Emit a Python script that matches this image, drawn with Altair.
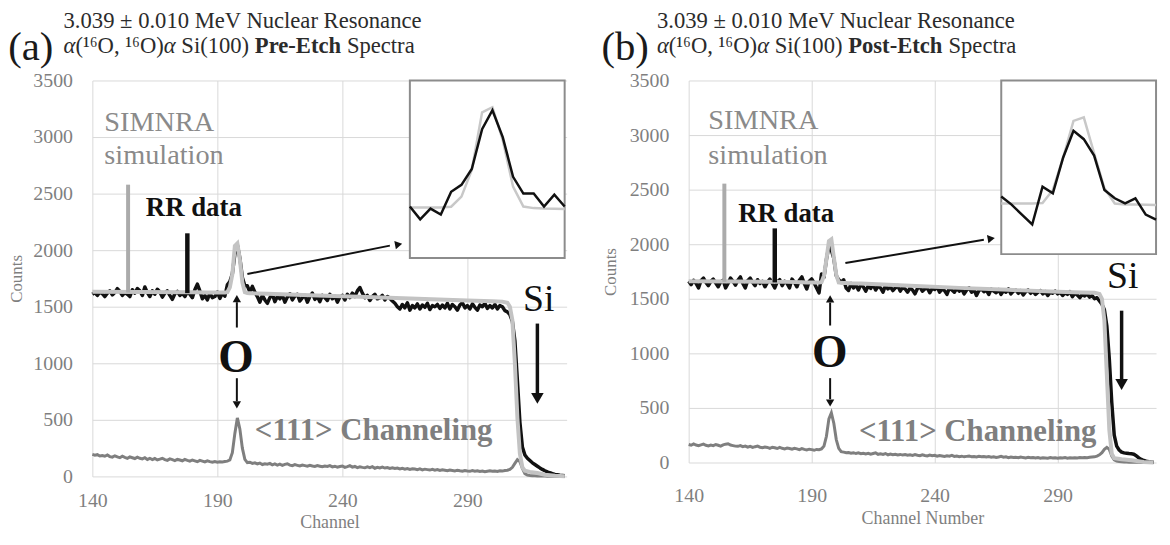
import altair as alt
import pandas as pd

FONT = "Liberation Serif"
CH0 = 140

# ---------------- panel (a): Pre-Etch ----------------
a_rr = [1610, 1625, 1600, 1630, 1615, 1590, 1620, 1640, 1605, 1625,
        1660, 1635, 1600, 1625, 1610, 1590, 1650, 1620, 1660, 1640,
        1600, 1675, 1625, 1590, 1640, 1610, 1655, 1630, 1585, 1620,
        1640, 1600, 1565, 1615, 1635, 1600, 1620, 1590, 1630, 1610,
        1580, 1650, 1700, 1640, 1570, 1600, 1560, 1620, 1580, 1590,
        1629, 1573, 1620, 1594, 1693, 1723, 1792, 1965, 2047, 1930, 1758, 1685, 1685, 1629, 1680, 1629,
        1590, 1540, 1600, 1560, 1530, 1580, 1610, 1545, 1590, 1570, 1600, 1540, 1585, 1615,
        1560, 1595, 1610, 1550, 1580, 1600, 1540, 1590, 1620, 1565, 1590, 1545, 1600, 1580, 1555, 1610, 1570, 1595, 1540, 1585,
        1600, 1560, 1610, 1580, 1620, 1590, 1640, 1670, 1620, 1580, 1600, 1555, 1590, 1610, 1570, 1580, 1600, 1560, 1590, 1575,
        1550, 1530, 1500, 1480, 1520, 1490, 1535, 1470, 1510, 1490, 1525, 1480, 1515, 1495, 1530, 1475, 1510, 1500, 1520, 1485,
        1515, 1490, 1530, 1480, 1520, 1500, 1470, 1515, 1535, 1490, 1510, 1480, 1525, 1495, 1470, 1515, 1500, 1530, 1485, 1510,
        1490, 1520, 1480, 1510, 1500, 1465, 1455, 1430, 1370, 1200,
        850, 480, 260, 190, 160, 140, 120, 105, 90, 75, 62, 50, 40, 32, 25, 18, 14, 10, 8, 6]

a_chan = [195, 188, 192, 180, 185, 178, 190, 175, 170, 182, 172, 165, 178, 168, 160, 172, 165, 158, 170, 160,
          155, 165, 150, 160, 148, 158, 145, 152, 160, 148, 142, 155, 148, 140, 150, 145, 138, 150, 142, 135,
          145, 138, 130, 142, 135, 128, 138, 130, 125, 132, 125, 130, 128, 132, 135, 145, 210, 380,
          517, 420, 250, 150, 122,
          125, 115, 120, 110, 118, 105, 112, 108, 115, 102, 110, 100, 108, 98, 106, 112, 100, 95, 104, 98, 92, 100, 95, 90, 98, 92, 88,
          95, 90, 85, 92, 88, 95, 84, 90, 82, 88, 92, 80, 86, 95, 82, 88, 78, 85, 80, 76, 84, 78, 86, 72, 80, 75, 82, 74, 78, 70,
          76, 70, 74, 66, 72, 64, 70, 62, 68, 65, 60, 66, 58, 64, 60, 56, 62, 55, 60, 52, 58, 54, 50, 56, 52, 48, 55, 50, 46, 52,
          48, 45, 52, 46, 50, 44, 48, 42, 46, 50, 45, 48, 44, 50, 47, 52, 55, 62, 80, 115,
          148, 130, 70, 25, 12, 8, 6, 5, 4, 4, 3, 3, 2, 2, 2, 1, 1, 1, 1, 1]

a_sim_ch = [140, 160, 180, 186, 188,
            190, 191, 192, 193, 194, 195, 196, 197, 198, 199, 200, 201, 202, 203, 204, 205, 206,
            210, 230, 250, 270, 290, 300, 304, 306, 307, 308, 309, 310, 311, 312, 313, 315, 318, 321, 325, 329]
a_sim = [1632, 1630, 1628, 1626, 1625,
         1625, 1625, 1625, 1625, 1628, 1672, 1788, 2038, 2060, 1917, 1715, 1629, 1622, 1620, 1619, 1618, 1617,
         1614, 1600, 1585, 1570, 1555, 1548, 1545, 1535, 1500, 1380, 1000, 520, 200, 80, 50, 40, 30, 15, 5, 2]

# ---------------- panel (b): Post-Etch ----------------
b_rr = [1660, 1630, 1670, 1640, 1600, 1665, 1690, 1650, 1620, 1660, 1680, 1645, 1610, 1655, 1670, 1600, 1640, 1690, 1660, 1625,
        1670, 1700, 1640, 1600, 1665, 1690, 1650, 1620, 1675, 1640, 1660, 1610, 1650, 1680, 1640, 1600, 1655, 1675, 1620, 1660,
        1640, 1600, 1680, 1650, 1610, 1670, 1700, 1640, 1590, 1660,
        1682, 1645, 1599, 1554, 1727, 1697, 1861, 1983, 1945, 1870, 1712, 1674, 1651, 1674, 1599, 1576,
        1640, 1600, 1625, 1580, 1630, 1610, 1570, 1620, 1595, 1630, 1580, 1615, 1600, 1560, 1620, 1590, 1610, 1575, 1600, 1620, 1570, 1605, 1590, 1560,
        1600, 1580, 1545, 1595, 1610, 1570, 1590, 1600, 1555, 1595, 1585, 1610, 1560, 1590, 1575, 1540, 1600, 1580, 1560, 1595, 1570, 1590, 1545, 1580, 1600, 1560, 1585, 1530, 1575, 1590,
        1565, 1580, 1540, 1590, 1570, 1555, 1585, 1540, 1575, 1560, 1590, 1545, 1570, 1580, 1550, 1575, 1535, 1565, 1580, 1550, 1570, 1540, 1560, 1575, 1545, 1565, 1530, 1560, 1550, 1570,
        1545, 1560, 1530, 1555, 1540, 1565, 1520, 1550, 1535, 1510, 1540, 1525, 1545, 1515, 1530, 1500, 1510, 1480, 1450, 1400,
        1250, 950, 550, 250, 150, 115, 95, 88, 85, 82, 80, 76, 60, 42, 28, 18, 12, 7, 4, 2]

b_chan = [165, 158, 170, 160, 155, 162, 168, 158, 152, 160, 155, 165, 158, 150, 162, 168, 172, 160, 155, 150,
          148, 155, 145, 150, 140, 148, 138, 145, 150, 140, 135, 142, 138, 130, 140, 135, 128, 138, 130, 125,
          132, 128, 122, 130, 125, 118, 128, 120, 115, 122, 118, 112, 120, 118, 125, 150, 240, 400,
          455, 360, 210, 130, 100,
          95, 90, 92, 85, 90, 82, 88, 80, 85, 78, 84, 76, 82, 88, 75, 80, 74, 82, 70, 78, 72, 76, 70, 74, 68, 72, 66,
          70, 65, 72, 66, 62, 70, 64, 60, 68, 62, 66, 58, 64, 60, 56, 62, 58, 65, 56, 60, 54, 58, 52, 56, 60, 52, 55, 50, 56, 52,
          55, 50, 54, 48, 52, 46, 50, 56, 48, 52, 45, 50, 46, 48, 44, 50, 45, 42, 48, 44, 46, 42, 45, 40, 44, 42, 40, 45, 41, 43,
          40, 44, 42, 45, 40, 43, 41, 44, 42, 45, 43, 46, 44, 48, 50, 52, 58, 70, 90, 120,
          138, 120, 60, 25, 12, 8, 6, 5, 4, 3, 3, 2, 2, 2, 1, 1, 1, 1, 1, 1]

b_sim_ch = [140, 160, 180, 186, 188,
            190, 191, 192, 193, 194, 195, 196, 197, 198, 199, 200, 201, 202, 203, 204, 205, 206,
            210, 230, 250, 270, 290, 300, 305, 307, 308, 309, 310, 311, 312, 313, 316, 320, 325, 329]
b_sim = [1660, 1658, 1655, 1652, 1650,
         1650, 1650, 1650, 1650, 1652, 1712, 1861, 2029, 2045, 1880, 1720, 1650, 1646, 1645, 1644, 1643, 1642,
         1640, 1620, 1600, 1582, 1565, 1558, 1555, 1545, 1500, 1300, 800, 300, 80, 40, 30, 20, 5, 1]

TITLE1 = "3.039 ± 0.010 MeV Nuclear Resonance"
TFS = 22.8          # title font size
K = TFS / 22.0      # scale for the hand-laid title pieces

CFG_A = dict(
    W=478, H=399, xmax=329.7, xtitle="Channel", xlabpad=14, xtitlepad=4, ytitlepad=7,
    tag="(a)", tag_x=-62, title_x=-29, etch="Pre-Etch", etch_w=84,
    simnra=(144.8, 3132, 2842), simnra_rule=(154.3, 1625, 2579),
    rr_text=(161.4, 2368), rr_rule=(178, 1620, 2149),
    o_text=(197.5, 1050), o_up=(197.8, 1316, 1540, 1572), o_down=(197.8, 868, 665, 632),
    si_text=(318.5, 1560), si_arrow=(318, 1351, 730, 690),
    chan_text=(205, 405),
    diag=(202, 1789, 259, 2040, 262.5, 2051, 349),
    ins_xr=[320, 476], ins_yd=[1405, 2176], ins_yr=[179, 0],
)
CFG_B = dict(
    W=471, H=385, xmax=330, xtitle="Channel Number", xlabpad=23, xtitlepad=4, ytitlepad=10,
    tag="(b)", tag_x=-64, title_x=-32, etch="Post-Etch", etch_w=92,
    simnra=(148, 3136, 2818), simnra_rule=(154.5, 1655, 2555),
    rr_text=(160.1, 2280), rr_rule=(175, 1650, 2145),
    o_text=(197.3, 1000), o_up=(197.5, 1255, 1465, 1500), o_down=(197.5, 773, 580, 545),
    si_text=(316.5, 1700), si_arrow=(316, 1391, 760, 715),
    chan_text=(209.2, 275),
    diag=(203.7, 1827, 260, 2040, 263, 2052, 350),
    ins_xr=[315, 471], ins_yd=[1418, 2214], ins_yr=[175, 0],
)

ONE = pd.DataFrame({"k": [0]})


def panel(rr, chan, sim_ch, sim, c):
    df_rr = pd.DataFrame({"channel": list(range(CH0, CH0 + len(rr))), "counts": rr})
    df_chan = pd.DataFrame({"channel": list(range(CH0, CH0 + len(chan))), "counts": chan})
    df_sim = pd.DataFrame({"channel": sim_ch, "counts": sim})

    xs = alt.Scale(domain=[140, c["xmax"]], nice=False, zero=False)
    ys = alt.Scale(domain=[0, 3500], nice=False)
    xax = alt.Axis(values=[140, 190, 240, 290], title=c["xtitle"], grid=True, ticks=False, tickSize=0,
                   domain=False, labelPadding=c["xlabpad"], titlePadding=c["xtitlepad"], format="d",
                   labelFont=FONT, titleFont=FONT, titleFontWeight="normal",
                   labelFontSize=20, titleFontSize=18, labelColor="#7f7f7f", titleColor="#7f7f7f",
                   gridColor="#d9d9d9", labelFlush=False)
    yax = alt.Axis(values=list(range(0, 3501, 500)), title="Counts", grid=True, ticks=False, tickSize=0,
                   domain=False, labelPadding=20, titlePadding=c["ytitlepad"], format="d",
                   labelFont=FONT, titleFont=FONT, titleFontWeight="normal",
                   labelFontSize=20, titleFontSize=17, labelColor="#7f7f7f", titleColor="#7f7f7f",
                   gridColor="#d9d9d9", labelFlush=False)
    X = alt.X("channel:Q", scale=xs, axis=xax)
    Y = alt.Y("counts:Q", scale=ys, axis=yax)

    chan_line = alt.Chart(df_chan).mark_line(color="#7f7f7f", strokeWidth=3).encode(x=X, y=Y)
    rr_line = alt.Chart(df_rr).mark_line(color="#111111", strokeWidth=3.5, strokeJoin="round").encode(x=X, y=Y)
    sim_line = alt.Chart(df_sim).mark_line(color="#c3c3c3", strokeWidth=4).encode(x=X, y=Y)

    sx, sy1, sy2 = c["simnra_rule"]
    rx, ry1, ry2 = c["rr_rule"]
    sim_rule = alt.Chart(pd.DataFrame({"channel": [sx], "counts": [sy1], "counts2": [sy2]})).mark_rule(
        color="#ababab", strokeWidth=4).encode(x=X, y=Y, y2="counts2:Q")
    rr_rule = alt.Chart(pd.DataFrame({"channel": [rx], "counts": [ry1], "counts2": [ry2]})).mark_rule(
        color="#111111", strokeWidth=4.5).encode(x=X, y=Y, y2="counts2:Q")

    def txt(rows, **kw):
        df = pd.DataFrame(rows, columns=["channel", "counts", "label"])
        return alt.Chart(df).mark_text(font=FONT, baseline="middle", **kw).encode(x=X, y=Y, text="label:N")

    smx, smy1, smy2 = c["simnra"]
    t_sim = txt([(smx, smy1, "SIMNRA"), (smx, smy2, "simulation")], align="left", fontSize=28.5, color="#8a8a8a")
    t_rr = txt([(c["rr_text"][0], c["rr_text"][1], "RR data")], align="left", fontSize=27,
               fontWeight="bold", color="#111111")
    t_o = txt([(c["o_text"][0], c["o_text"][1], "O")], align="center", fontSize=46, fontWeight="bold",
              color="#111111")
    t_si = txt([(c["si_text"][0], c["si_text"][1], "Si")], align="center", fontSize=38, color="#111111")
    t_ch = txt([(c["chan_text"][0], c["chan_text"][1], "<111> Channeling")], align="left", fontSize=31,
               fontWeight="bold", color="#7f7f7f")

    # arrows
    ox, oy1, oy2, otip = c["o_up"]
    dx, dy1, dy2, dtip = c["o_down"]
    six, siy1, siy2, sitip = c["si_arrow"]
    ax1, ay1, ax2, ay2, tx, ty, ang = c["diag"]
    shafts = pd.DataFrame({
        "channel": [ox, dx, ax1], "counts": [oy1, dy1, ay1],
        "channel2": [ox, dx, ax2], "counts2": [oy2, dy2, ay2]})
    shaft = alt.Chart(shafts).mark_rule(color="#111111", strokeWidth=2).encode(
        x=X, y=Y, x2="channel2:Q", y2="counts2:Q")
    si_shaft = alt.Chart(pd.DataFrame({"channel": [six], "counts": [siy1], "counts2": [siy2]})).mark_rule(
        color="#111111", strokeWidth=3.5).encode(x=X, y=Y, y2="counts2:Q")
    tip_up = alt.Chart(pd.DataFrame({"channel": [ox], "counts": [otip]})).mark_point(
        shape="triangle-up", filled=True, size=70, color="#111111", opacity=1).encode(x=X, y=Y)
    tip_dn = alt.Chart(pd.DataFrame({"channel": [dx], "counts": [dtip]})).mark_point(
        shape="triangle-down", filled=True, size=70, color="#111111", opacity=1).encode(x=X, y=Y)
    tip_si = alt.Chart(pd.DataFrame({"channel": [six], "counts": [sitip]})).mark_point(
        shape="triangle-down", filled=True, size=160, color="#111111", opacity=1).encode(x=X, y=Y)
    tip_dg = alt.Chart(pd.DataFrame({"channel": [tx], "counts": [ty]})).mark_point(
        shape="triangle-right", filled=True, size=70, angle=ang, color="#111111", opacity=1).encode(x=X, y=Y)

    # titles (text, placed in pixels above the plot)
    tag = alt.Chart(ONE).mark_text(text=c["tag"], font=FONT, fontSize=41, align="center",
                                   baseline="alphabetic", color="#1a1a1a").encode(
        x=alt.value(c["tag_x"]), y=alt.value(-21))
    t0 = c["title_x"]
    line1 = alt.Chart(ONE).mark_text(text=TITLE1, font=FONT, fontSize=TFS, align="left",
                                     baseline="alphabetic", color="#2b2b2b").encode(
        x=alt.value(t0), y=alt.value(-53))
    pieces = [("α", "italic", "normal", 0), ("(¹⁶O, ¹⁶O)", "normal", "normal", 11.5),
              ("α", "italic", "normal", 97.5), ("Si(100)", "normal", "normal", 114.5),
              (c["etch"], "normal", "bold", 186), ("Spectra", "normal", "normal", 186 + c["etch_w"] + 5.5)]
    line2 = []
    for text, style, weight, off in pieces:
        line2.append(alt.Chart(ONE).mark_text(text=text, font=FONT, fontSize=TFS, align="left",
                                              baseline="alphabetic", fontStyle=style, fontWeight=weight,
                                              color="#2b2b2b").encode(
            x=alt.value(t0 + off * K), y=alt.value(-28)))

    main = alt.layer(chan_line, rr_line, sim_line, sim_rule, rr_rule, t_sim, t_rr, t_o, t_si, t_ch,
                     shaft, si_shaft, tip_up, tip_dn, tip_si, tip_dg, tag, line1, *line2)

    # inset: zoom of the O resonance peak, own scales
    ixs = alt.Scale(domain=[190, 205], range=c["ins_xr"], nice=False, zero=False)
    iys = alt.Scale(domain=c["ins_yd"], range=c["ins_yr"], nice=False, zero=False)
    IX = alt.X("channel:Q", scale=ixs, axis=None)
    IY = alt.Y("counts:Q", scale=iys, axis=None)
    box = alt.Chart(pd.DataFrame({"channel": [190], "channel2": [205],
                                  "counts": [c["ins_yd"][0]], "counts2": [c["ins_yd"][1]]})).mark_rect(
        fill="white", stroke="#8c8c8c", strokeWidth=2).encode(x=IX, x2="channel2:Q", y=IY, y2="counts2:Q")
    ins_sim = alt.Chart(df_sim).transform_filter(
        (alt.datum.channel >= 190) & (alt.datum.channel <= 205)).mark_line(
        color="#c8c8c8", strokeWidth=2.5).encode(x=IX, y=IY)
    ins_rr = alt.Chart(df_rr).transform_filter(
        (alt.datum.channel >= 190) & (alt.datum.channel <= 205)).mark_line(
        color="#111111", strokeWidth=2.5).encode(x=IX, y=IY)
    inset = alt.layer(box, ins_sim, ins_rr)

    return alt.layer(main, inset).resolve_scale(x="independent", y="independent").properties(
        width=c["W"], height=c["H"])


pa = panel(a_rr, a_chan, a_sim_ch, a_sim, CFG_A)
pb = panel(b_rr, b_chan, b_sim_ch, b_sim, CFG_B)

chart = alt.hconcat(pa, pb, spacing=28).properties(padding=0, background="white").configure(
    font=FONT).configure_view(stroke=None).configure_axis(labelFont=FONT, titleFont=FONT,
                                                          titleFontWeight="normal")

chart.save("out.html", embed_options={"renderer": "svg", "actions": False})
